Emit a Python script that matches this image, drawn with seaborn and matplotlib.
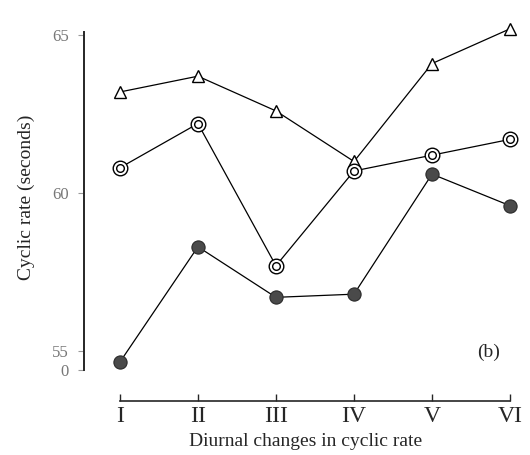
import numpy as np
import pandas as pd
import matplotlib
matplotlib.use("Agg")
import matplotlib.pyplot as plt
import seaborn as sns

# values
periods = ["I", "II", "III", "IV", "V", "VI"]
triangle_vals = [63.2, 63.7, 62.6, 61.0, 64.1, 65.2]
ring_vals = [60.8, 62.2, 57.7, 60.7, 61.2, 61.7]
dot_vals = [54.65, 58.3, 56.7, 56.8, 60.6, 59.6]

sns.set_style("ticks")
plt.rcParams['font.family'] = ['Liberation Serif', 'DejaVu Serif']

pos = np.arange(len(periods))
df = pd.DataFrame({"pos": pos, "tri": triangle_vals, "ring": ring_vals, "dot": dot_vals})

fig, ax = plt.subplots(figsize=(5.3, 4.55), dpi=100)
fig.subplots_adjust(left=84/530, right=528/530, top=1-25/455, bottom=1-370/455)

# triangles
sns.lineplot(data=df, x="pos", y="tri", ax=ax, color="black", lw=0.9,
             marker="^", markersize=9, markerfacecolor="white",
             markeredgecolor="black", markeredgewidth=1.0, clip_on=False)
# double circles
sns.lineplot(data=df, x="pos", y="ring", ax=ax, color="black", lw=0.9,
             marker="o", markersize=10.5, markerfacecolor="white",
             markeredgecolor="black", markeredgewidth=1.0, clip_on=False)
sns.lineplot(data=df, x="pos", y="ring", ax=ax, lw=0,
             marker="o", markersize=5.5, markerfacecolor="white",
             markeredgecolor="black", markeredgewidth=1.0, clip_on=False)
# filled circles
sns.lineplot(data=df, x="pos", y="dot", ax=ax, color="black", lw=0.9,
             marker="o", markersize=9.5, markerfacecolor="#4a4a4a",
             markeredgecolor="#2a2a2a", markeredgewidth=0.8, clip_on=False)

ax.set_xlim(-0.46, 5.23)
ax.set_ylim(54.4, 65.32)

ax.set_xticks(pos)
ax.set_xticklabels(periods)
ax.set_yticks([54.4, 55, 60, 65])
ax.set_yticklabels(["0", "55", "60", "65"])

ax.tick_params(axis="x", direction="in", length=5, width=1, pad=4, labelsize=17)
ax.tick_params(axis="y", direction="out", length=4, width=0.8, colors="#999999",
               labelcolor="#777777", labelsize=12, pad=7)

sns.despine(ax=ax)
ax.spines["bottom"].set_position(("outward", 22))
ax.spines["bottom"].set_bounds(0, 5)
ax.spines["left"].set_bounds(54.4, 65.1)
ax.spines["left"].set_linewidth(1.4)
ax.spines["bottom"].set_linewidth(1.2)

ax.set_xlabel("Diurnal changes in cyclic rate", fontsize=14, labelpad=4)
ax.set_ylabel("Cyclic rate (seconds)", fontsize=14, labelpad=12)

ax.text(4.72, 54.95, "(b)", fontsize=14, ha="center", va="center")

fig.savefig("out.png", dpi=100)
